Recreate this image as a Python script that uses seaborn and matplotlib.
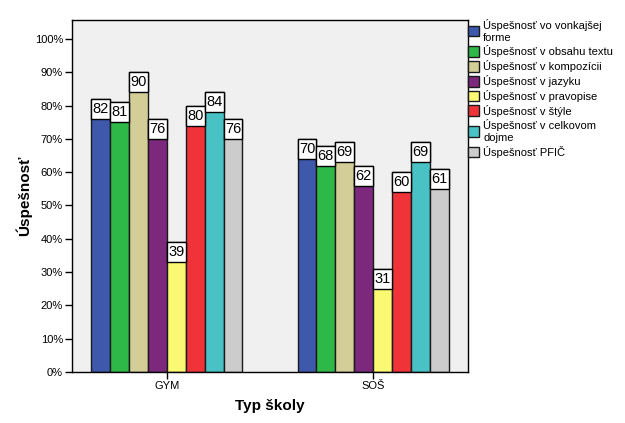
import pandas as pd
import numpy as np
import matplotlib
matplotlib.use("Agg")
import matplotlib.pyplot as plt
from matplotlib.patches import Patch, Rectangle
from matplotlib.ticker import FuncFormatter
import seaborn as sns

# data
skoly = ["GYM", "SOŠ"]
kategorie = [
    "Úspešnosť vo vonkajšej\nforme",
    "Úspešnosť v obsahu textu",
    "Úspešnosť v kompozícii",
    "Úspešnosť v jazyku",
    "Úspešnosť v pravopise",
    "Úspešnosť v štýle",
    "Úspešnosť v celkovom\ndojme",
    "Úspešnosť PFIČ",
]
gym = [82, 81, 90, 76, 39, 80, 84, 76]
sos = [70, 68, 69, 62, 31, 60, 69, 61]
farby = ["#3e58ac", "#2eb848", "#d3ce97", "#7b287d",
         "#fbf873", "#ef3338", "#48c2c5", "#cccccc"]

rows = []
for skola, vals in zip(skoly, [gym, sos]):
    for kat, v in zip(kategorie, vals):
        rows.append({"Typ školy": skola, "kategoria": kat, "Úspešnosť": v})
df = pd.DataFrame(rows)

sns.set_style("white")
plt.rcParams["font.family"] = ["Liberation Sans", "DejaVu Sans"]
plt.rcParams["text.color"] = "black"
plt.rcParams["axes.labelcolor"] = "black"
plt.rcParams["xtick.color"] = "black"
plt.rcParams["ytick.color"] = "black"

fig = plt.figure(figsize=(6.25, 4.23), dpi=100)
ax = fig.add_axes([0.1152, 0.1206, 0.6336, 0.8321])
ax.set_facecolor("#f0f0f0")

sns.barplot(data=df, x="Typ školy", y="Úspešnosť", hue="kategoria",
            hue_order=kategorie, palette=farby, saturation=1,
            width=0.733, gap=0, edgecolor="#1a1a1a", linewidth=1,
            legend=False, ax=ax)

# value labels: white boxes covering the top of each bar
box_h = 6.0
for cont in ax.containers:
    for bar in cont:
        h = bar.get_height()
        ax.add_patch(Rectangle((bar.get_x(), h - box_h), bar.get_width(), box_h,
                               facecolor="white", edgecolor="black", lw=1,
                               zorder=3))
        ax.text(bar.get_x() + bar.get_width() / 2, h - box_h / 2, f"{h:.0f}",
                ha="center", va="center", fontsize=10.5, zorder=4)

ax.set_ylim(0, 105.7)
ax.set_xlim(-0.461, 1.461)
ax.set_yticks(np.arange(0, 101, 10))
ax.yaxis.set_major_formatter(FuncFormatter(lambda v, p: f"{v:.0f}%"))
ax.tick_params(axis="both", direction="out", length=5, width=1,
               labelsize=8, color="black", pad=1.5, left=True, bottom=True)
for s in ax.spines.values():
    s.set_visible(True)
    s.set_color("black")
    s.set_linewidth(1)

ax.set_xlabel("Typ školy", fontsize=11, fontweight="bold", labelpad=6)
ax.set_ylabel("Úspešnosť", fontsize=11, fontweight="bold", labelpad=2)

handles = [Patch(facecolor=c, edgecolor="#1a1a1a", lw=1) for c in farby]
fig.legend(handles, kategorie, loc="upper left",
           bbox_to_anchor=(0.748, 0.955), frameon=False, fontsize=8,
           handlelength=1.05, handleheight=1.1, handletextpad=0.35,
           labelspacing=0.25, borderpad=0, borderaxespad=0)

fig.savefig("out.png", dpi=100, facecolor="white")
